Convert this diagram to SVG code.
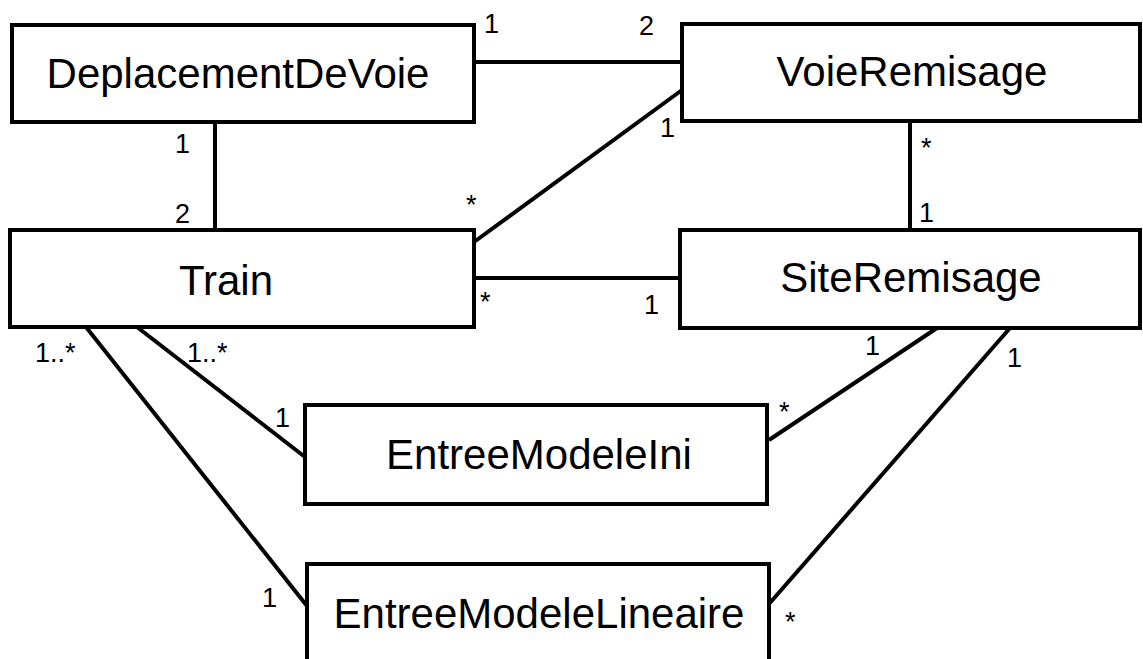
<svg xmlns="http://www.w3.org/2000/svg" width="1143" height="659" viewBox="0 0 1143 659">
  <style>
    .box { fill: #ffffff; stroke: #000000; stroke-width: 4; }
    .name { font-family: "Liberation Sans", Arial, sans-serif; font-size: 42px; fill: #000000; text-anchor: middle; }
    .link { stroke: #000000; stroke-width: 4; fill: none; }
    .mult { font-family: "Liberation Sans", Arial, sans-serif; font-size: 27px; fill: #000000; }
  </style>
  <rect width="1143" height="659" fill="#ffffff"/>

  <!-- associations -->
  <g id="connectors">
    <line class="link" x1="474" y1="62" x2="682" y2="62"/>
    <line class="link" x1="215" y1="122" x2="215" y2="230"/>
    <line class="link" x1="682" y1="90" x2="474" y2="242"/>
    <line class="link" x1="910" y1="121" x2="910" y2="230"/>
    <line class="link" x1="474" y1="278" x2="680" y2="278"/>
    <line class="link" x1="137" y1="327" x2="305" y2="457"/>
    <line class="link" x1="86" y1="327" x2="307" y2="606"/>
    <line class="link" x1="937" y1="328" x2="769" y2="440"/>
    <line class="link" x1="1010" y1="328" x2="769" y2="604"/>
  </g>

  <!-- multiplicities -->
  <g id="multiplicities">
    <text class="mult" x="484" y="33">1</text>
    <text class="mult" x="639" y="35">2</text>
    <text class="mult" x="175" y="153">1</text>
    <text class="mult" x="175" y="223">2</text>
    <text class="mult" x="660" y="137">1</text>
    <text class="mult" x="466" y="214">*</text>
    <text class="mult" x="921" y="157">*</text>
    <text class="mult" x="919" y="222">1</text>
    <text class="mult" x="480" y="311">*</text>
    <text class="mult" x="644" y="314">1</text>
    <text class="mult" x="35" y="362">1..*</text>
    <text class="mult" x="187" y="362">1..*</text>
    <text class="mult" x="275" y="427">1</text>
    <text class="mult" x="262" y="607">1</text>
    <text class="mult" x="865" y="355">1</text>
    <text class="mult" x="779" y="421">*</text>
    <text class="mult" x="1007" y="367">1</text>
    <text class="mult" x="785" y="631">*</text>
  </g>

  <g id="DeplacementDeVoie">
    <rect class="box" x="12" y="25" width="462" height="97"/>
    <text class="name" x="238" y="88">DeplacementDeVoie</text>
  </g>
  <g id="VoieRemisage">
    <rect class="box" x="682" y="24" width="458" height="97"/>
    <text class="name" x="912" y="86">VoieRemisage</text>
  </g>
  <g id="Train">
    <rect class="box" x="10" y="230" width="464" height="97"/>
    <text class="name" x="226" y="295">Train</text>
  </g>
  <g id="SiteRemisage">
    <rect class="box" x="680" y="230" width="460" height="98"/>
    <text class="name" x="911" y="292">SiteRemisage</text>
  </g>
  <g id="EntreeModeleIni">
    <rect class="box" x="305" y="405" width="462" height="99"/>
    <text class="name" x="539" y="469">EntreeModeleIni</text>
  </g>
  <g id="EntreeModeleLineaire">
    <rect class="box" x="307" y="564" width="462" height="99"/>
    <text class="name" x="539" y="628">EntreeModeleLineaire</text>
  </g>
</svg>
